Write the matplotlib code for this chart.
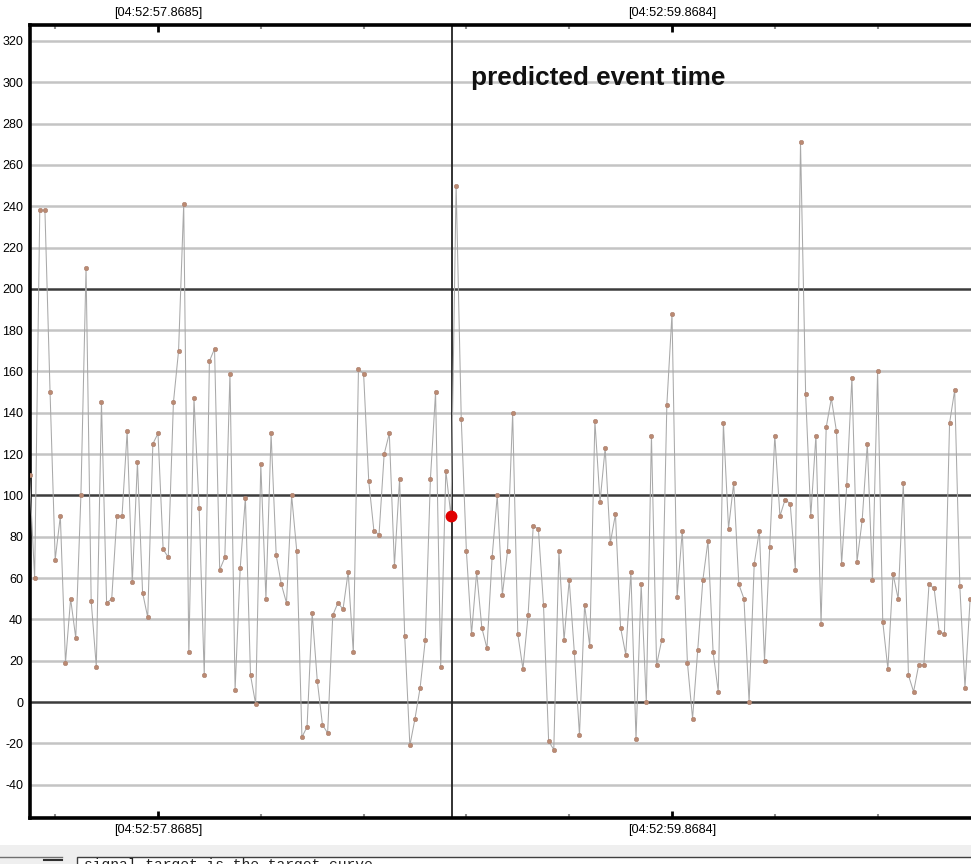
import numpy as np
import matplotlib
matplotlib.use('Agg')
import matplotlib.pyplot as plt
from matplotlib.patches import Rectangle
from matplotlib.lines import Line2D

# signal samples (50 Hz)
signal_values = [
    110, 60, 238, 238, 150, 69, 90, 19, 50, 31,
    100, 210, 49, 17, 145, 48, 50, 90, 90, 131,
    58, 116, 53, 41, 125, 130, 74, 70, 145, 170,
    241, 24, 147, 94, 13, 165, 171, 64, 70, 159,
    6, 65, 99, 13, -1, 115, 50, 130, 71, 57,
    48, 100, 73, -17, -12, 43, 10, -11, -15, 42,
    48, 45, 63, 24, 161, 159, 107, 83, 81, 120,
    130, 66, 108, 32, -21, -8, 7, 30, 108, 150,
    17, 112, 90, 250, 137, 73, 33, 63, 36, 26,
    70, 100, 52, 73, 140, 33, 16, 42, 85, 84,
    47, -19, -23, 73, 30, 59, 24, -16, 47, 27,
    136, 97, 123, 77, 91, 36, 23, 63, -18, 57,
    0, 129, 18, 30, 144, 188, 51, 83, 19, -8,
    25, 59, 78, 24, 5, 135, 84, 106, 57, 50,
    0, 67, 83, 20, 75, 129, 90, 98, 96, 64,
    271, 149, 90, 129, 38, 133, 147, 131, 67, 105,
    157, 68, 88, 125, 59, 160, 39, 16, 62, 50,
    106, 13, 5, 18, 18, 57, 55, 34, 33, 135,
    151, 56, 7, 50,
]
sample_period = 0.02          # s
first_sample = -0.5           # s, relative to 04:52:57.8685
event_index = 82              # sample highlighted at the predicted event
event_time = 1.144            # s

major_ticks = [0.0, 1.9999]
major_labels = ['[04:52:57.8685]', '[04:52:59.8684]']
minor_ticks = [-0.4, 0.4, 0.8, 1.2, 1.6, 2.4, 2.8]
y_grid = list(range(-40, 321, 20))
y_dark = [0, 100, 200]

t = first_sample + sample_period * np.arange(len(signal_values))

plt.rcParams['font.family'] = ['Liberation Sans', 'DejaVu Sans']
fig = plt.figure(figsize=(9.71, 8.64), dpi=100)
W, H = 971, 864
ax = fig.add_axes([30 / W, 46 / H, 941 / W, 793 / H])

for v in y_grid:
    if v in y_dark:
        ax.axhline(v, color='#3c3c3c', lw=1.8, zorder=1)
    else:
        ax.axhline(v, color='#c4c4c4', lw=1.8, zorder=1)

ax.axvline(event_time, color='#222222', lw=1.3, zorder=2)

ax.plot(t, signal_values, color='#a9a9a9', lw=0.75, zorder=3)
ax.plot(t, signal_values, ls='none', marker='o', ms=3.2,
        color='#bb8a72', mec='#a98070', mew=0.4, zorder=4)
ax.plot(t[event_index], signal_values[event_index], ls='none', marker='o',
        ms=7.5, color='#e00000', zorder=5)

ax.text(1.218, 298.5, 'predicted event time', fontsize=18.8, fontweight='bold',
        color='#111111', va='baseline', ha='left', zorder=6)

ax.set_xlim((30 - 158) / 257, (971 - 158) / 257)
ax.set_ylim(-56.1, 327.7)

ax.set_yticks(y_grid)
ax.set_yticklabels([str(v) for v in y_grid], fontsize=9)
ax.tick_params(axis='y', length=0, pad=5)

ax.set_xticks(major_ticks)
ax.set_xticklabels(major_labels, fontsize=9.2)
ax.set_xticks(minor_ticks, minor=True)
ax.tick_params(axis='x', which='major', direction='in', length=5, width=2,
               color='black', top=True, bottom=True, labeltop=True,
               labelbottom=True, pad=4)
ax.tick_params(axis='x', which='minor', direction='in', length=3, width=1.5,
               color='#909090', top=True, bottom=True)

for side in ['left', 'top', 'bottom']:
    ax.spines[side].set_linewidth(2.6)
    ax.spines[side].set_color('black')
ax.spines['right'].set_visible(False)

# status strip under the plot
fig.patches.append(Rectangle((0, 0), 1, 19 / H, transform=fig.transFigure,
                             facecolor='#efefef', edgecolor='none', zorder=0))
fig.lines.append(Line2D([0, 62 / W], [7 / H, 7 / H], transform=fig.transFigure,
                        color='#707070', lw=1))
fig.lines.append(Line2D([44 / W, 62 / W], [4 / H, 4 / H], transform=fig.transFigure,
                        color='#303030', lw=1.5))
fig.patches.append(Rectangle((77 / W, -10 / H), 1, 17 / H, transform=fig.transFigure,
                             facecolor='white', edgecolor='#404040', lw=1))
fig.text(84 / W, -8 / H, 'signal-target is the target curve.', fontsize=10.5,
         family='Liberation Mono', color='#222222', va='bottom', ha='left')

fig.savefig('out.png', dpi=100)
